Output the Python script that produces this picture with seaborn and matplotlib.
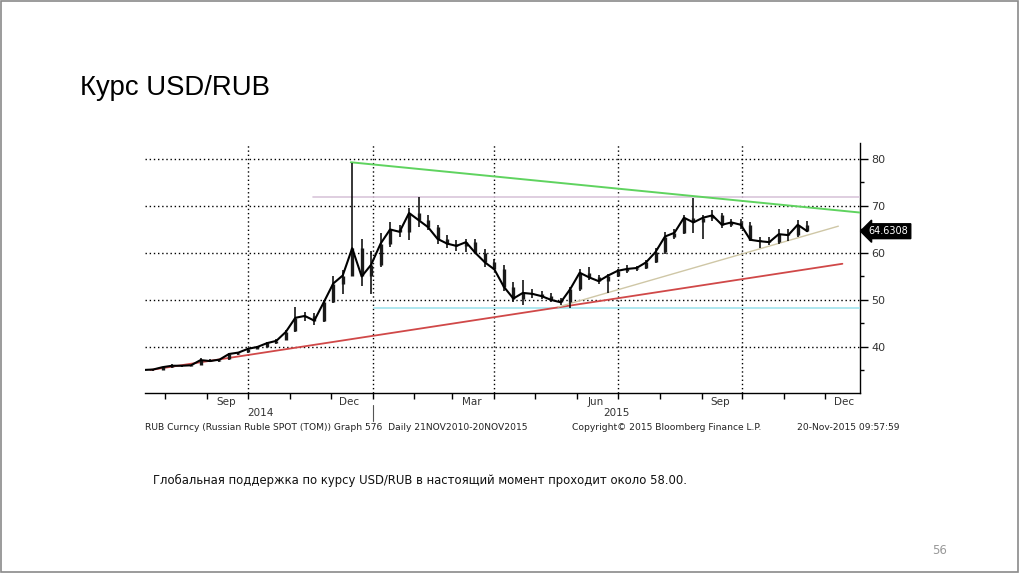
import numpy as np
import pandas as pd
import matplotlib
matplotlib.use("Agg")
import matplotlib.pyplot as plt
import matplotlib.dates as mdates
import matplotlib.transforms as mtransforms
from matplotlib.patches import Rectangle
from matplotlib.ticker import FixedLocator, NullFormatter
import seaborn as sns

# ---------------- data (weekly OHLC) ----------------
week_end = pd.date_range("2014-07-18", "2015-11-20", freq="W-FRI")

opens = [35.0, 35.1, 35.2, 35.7, 36.0, 36.0, 36.1, 37.2, 37.0, 37.4, 38.5, 38.9, 39.6, 40.0,
         40.9, 41.4, 43.3, 46.3, 46.6, 45.6, 49.6, 53.5, 55.2, 61.0, 55.0, 57.5, 62.0, 65.0,
         64.5, 68.5, 67.0, 65.5, 63.0, 62.0, 61.5, 62.3, 60.0, 58.0, 56.5, 52.8, 50.3, 51.5,
         51.3, 50.8, 50.0, 49.5, 52.3, 55.8, 54.8, 54.0, 55.2, 56.2, 56.6, 56.8, 58.0, 60.2,
         63.5, 64.3, 67.5, 66.5, 67.5, 68.0, 66.0, 66.5, 66.0, 62.8, 62.5, 62.3, 64.0, 63.8,
         66.0]
highs = [35.3, 35.4, 35.8, 36.3, 36.2, 36.2, 37.7, 37.5, 37.5, 38.8, 39.0, 39.8, 40.2, 41.0,
         41.6, 43.6, 48.5, 47.5, 47.2, 50.0, 55.0, 56.4, 79.2, 63.0, 60.5, 64.3, 66.5, 66.0,
         69.5, 72.0, 68.0, 66.0, 63.8, 62.8, 63.0, 63.0, 60.8, 58.8, 57.5, 53.8, 54.3, 52.3,
         52.0, 51.5, 50.4, 52.8, 56.5, 57.0, 55.3, 55.5, 56.5, 57.5, 57.2, 58.5, 61.0, 64.5,
         65.0, 68.0, 71.8, 68.0, 69.2, 68.5, 67.2, 67.3, 66.5, 63.5, 63.3, 65.0, 65.0, 67.0,
         66.8]
lows = [34.7, 34.8, 35.1, 35.6, 35.8, 35.9, 36.1, 36.8, 36.8, 37.3, 38.3, 38.8, 39.5, 39.9,
        40.7, 41.4, 43.2, 45.6, 44.7, 45.4, 49.4, 51.3, 55.0, 53.0, 51.3, 57.0, 61.3, 63.5,
        62.8, 65.5, 64.8, 62.0, 61.0, 60.5, 60.2, 60.0, 57.0, 56.5, 52.0, 49.5, 48.9, 50.4,
        50.3, 49.6, 49.0, 48.3, 51.8, 54.3, 53.5, 51.5, 54.8, 55.8, 56.2, 56.5, 57.8, 59.8,
        63.0, 64.0, 64.3, 63.0, 66.8, 65.3, 65.5, 65.0, 62.5, 61.0, 61.6, 62.0, 62.6, 63.5,
        64.5]
closes = [35.1, 35.2, 35.7, 36.0, 36.0, 36.1, 37.2, 37.0, 37.3, 38.5, 38.8, 39.6, 40.0, 40.8,
          41.3, 43.2, 46.2, 46.6, 45.6, 49.5, 53.5, 55.2, 61.0, 55.0, 57.5, 62.0, 65.0, 64.5,
          68.5, 67.0, 65.5, 63.0, 62.0, 61.5, 62.3, 60.0, 58.0, 56.5, 52.8, 50.3, 51.5, 51.3,
          50.8, 50.0, 49.5, 52.3, 55.8, 54.8, 54.0, 55.2, 56.2, 56.6, 56.8, 58.0, 60.2, 63.5,
          64.3, 67.5, 66.5, 67.5, 68.0, 66.0, 66.5, 66.0, 62.8, 62.5, 62.3, 64.0, 63.8, 66.0,
          64.63]
last_price = "64.6308"

# trend lines: (dates, values)
green_dates, green_vals = ["2014-12-16", "2015-12-27"], [79.3, 68.6]
pink_dates, pink_vals = ["2014-11-18", "2015-12-27"], [72.0, 72.0]
cyan_dates, cyan_vals = ["2015-01-02", "2015-12-27"], [48.2, 48.2]
red_dates, red_vals = ["2014-07-21", "2015-12-14"], [35.1, 57.7]
tan_dates, tan_vals = ["2015-05-18", "2015-12-11"], [48.5, 65.7]

quarter_starts = ["2014-10-01", "2015-01-01", "2015-04-01", "2015-07-01", "2015-10-01"]
month_labels = ["Sep", "Dec", "Mar", "Jun", "Sep", "Dec"]
month_label_dates = ["2014-09-15", "2014-12-15", "2015-03-15", "2015-06-15", "2015-09-15", "2015-12-15"]
year_labels = ["2014", "2015"]
year_label_dates = ["2014-10-10", "2015-06-30"]
y_ticks = [40, 50, 60, 70, 80]

# ---------------- figure ----------------
sns.set_theme(style="white")
plt.rcParams["font.family"] = ["DejaVu Sans"]
W, H = 1024, 576
fig = plt.figure(figsize=(W / 100, H / 100), dpi=100)
fig.patch.set_facecolor("white")

def fx(px):
    return px / W

def fy(py):
    return 1 - py / H

ax = fig.add_axes([fx(145), fy(393), fx(860) - fx(145), fy(143) - fy(393)])
ax.set_facecolor("white")

df = pd.DataFrame({"date": week_end - pd.Timedelta(days=2), "open": opens, "high": highs,
                   "low": lows, "close": closes})
d = mdates.date2num(df["date"])

# candles
ax.vlines(d, df["low"], df["high"], color="black", lw=1.1, zorder=4)
ax.vlines(d, df["open"], df["close"], color="#1a1a1a", lw=2.4, zorder=4)
sns.lineplot(data=df, x="date", y="close", color="black", lw=1.5, ax=ax, zorder=5)

# trend lines
def tline(dates, vals, color, lw=1.2):
    t = pd.DataFrame({"date": pd.to_datetime(dates), "v": vals})
    sns.lineplot(data=t, x="date", y="v", color=color, lw=lw, ax=ax, zorder=3)

tline(pink_dates, pink_vals, "#d9c6da", 1.2)
tline(cyan_dates, cyan_vals, "#9fe3ec", 1.2)
tline(green_dates, green_vals, "#5fd35f", 1.4)
tline(red_dates, red_vals, "#d04848", 1.3)
tline(tan_dates, tan_vals, "#cfc7a6", 1.0)

# limits
ax.set_xlim(mdates.date2num(pd.Timestamp("2014-07-17")), mdates.date2num(pd.Timestamp("2015-12-27")))
ax.set_ylim(30.2, 83.4)

# grid
dot = (0, (1, 2))
for yv in y_ticks:
    ax.axhline(yv, color="black", lw=1.0, ls=dot, zorder=1)
for q in quarter_starts:
    ax.axvline(mdates.date2num(pd.Timestamp(q)), color="black", lw=1.0, ls=dot, zorder=1)

# spines
for s in ["left", "top"]:
    ax.spines[s].set_visible(False)
for s in ["bottom", "right"]:
    ax.spines[s].set_visible(True)
    ax.spines[s].set_color("black")
    ax.spines[s].set_linewidth(1.0)

# y axis on right
ax.yaxis.tick_right()
ax.set_yticks(y_ticks)
ax.set_yticklabels([str(v) for v in y_ticks], fontsize=8, color="#333333")
ax.yaxis.set_minor_locator(FixedLocator([35, 45, 55, 65, 75]))
ax.tick_params(axis="y", which="major", direction="out", length=6, width=1, color="black", pad=2,
               left=False, right=True)
ax.tick_params(axis="y", which="minor", direction="out", length=3, width=1, color="black",
               left=False, right=True)
ax.set_ylabel("")
ax.set_xlabel("")

# x axis: month ticks (minor), labels at mid-month (major, no tick)
month_starts = pd.date_range("2014-08-01", "2015-12-01", freq="MS")
ax.xaxis.set_minor_locator(FixedLocator(mdates.date2num(month_starts)))
ax.xaxis.set_minor_formatter(NullFormatter())
ax.set_xticks(mdates.date2num(pd.to_datetime(month_label_dates)))
ax.set_xticklabels(month_labels, fontsize=7.5, color="#333333")
ax.tick_params(axis="x", which="major", length=0, pad=3)
ax.tick_params(axis="x", which="minor", direction="out", length=4, width=1, color="black", bottom=True)

# year labels & separator
trans = mtransforms.blended_transform_factory(ax.transData, fig.transFigure)
for lab, dt in zip(year_labels, year_label_dates):
    ax.text(mdates.date2num(pd.Timestamp(dt)), fy(413), lab, transform=trans, fontsize=7.5,
            color="#333333", ha="center", va="center")
ax.plot([mdates.date2num(pd.Timestamp("2015-01-01"))] * 2, [fy(405), fy(421)], transform=trans,
        color="#555555", lw=0.8, clip_on=False)

# last price tag
tr2 = mtransforms.blended_transform_factory(ax.transAxes, ax.transData)
ax.text(1.012, closes[-1], last_price, transform=tr2, fontsize=7, color="white", ha="left",
        va="center", bbox=dict(boxstyle="larrow,pad=0.25", fc="black", ec="black"), zorder=6)

# slide texts
fig.text(fx(80), fy(88), "Курс USD/RUB", fontsize=19.8, family=["Liberation Sans", "DejaVu Sans"],
         color="black", ha="left", va="center")
fig.text(fx(145), fy(428),
         "RUB Curncy (Russian Ruble SPOT (TOM)) Graph 576  Daily 21NOV2010-20NOV2015",
         fontsize=6.6, color="#222222", ha="left", va="center")
fig.text(fx(572), fy(428), "Copyright© 2015 Bloomberg Finance L.P.", fontsize=6.6,
         color="#222222", ha="left", va="center")
fig.text(fx(797), fy(428), "20-Nov-2015 09:57:59", fontsize=6.6, color="#222222",
         ha="left", va="center")
fig.text(fx(153), fy(480),
         "Глобальная поддержка по курсу USD/RUB в настоящий момент проходит около 58.00.",
         fontsize=8.4, color="#111111", ha="left", va="center")
fig.text(fx(940), fy(550), "56", fontsize=8.5, color="#999999", ha="center", va="center")

# slide border
fig.patches.append(Rectangle((fx(1), fy(572)), fx(1018) - fx(1), fy(1) - fy(572),
                             transform=fig.transFigure, fill=False, ec="#8a8a8a", lw=1.2))

fig.savefig("out.png", dpi=100, facecolor="white")
